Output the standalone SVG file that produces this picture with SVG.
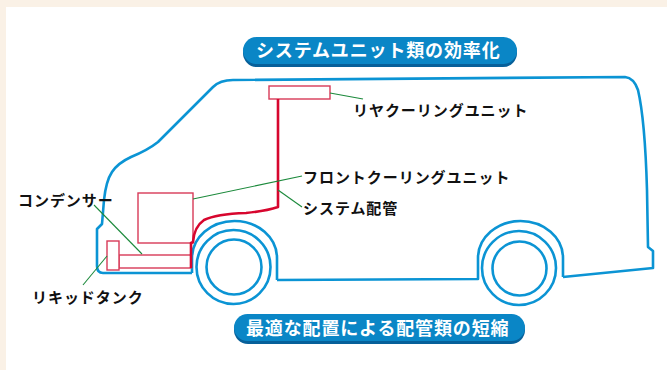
<svg xmlns="http://www.w3.org/2000/svg" width="667" height="370" viewBox="0 0 667 370">
  <style>
    .body { fill: none; stroke: #0b94d4; stroke-width: 2.6; stroke-linejoin: round; }
    .unit { fill: #ffffff; stroke: #d83a58; stroke-width: 1.4; }
    .pipe { fill: none; stroke: #d7062e; stroke-width: 2.6; stroke-linejoin: round; }
    .lead { fill: none; stroke: #1c8a3c; stroke-width: 1.1; }
    .lbl { font-family: "Noto Sans CJK JP", "Noto Sans", sans-serif; font-weight: 700; font-size: 15px; letter-spacing: 0.95px; fill: #111111; }
    .ttl { font-family: "Noto Sans CJK JP", "Noto Sans", sans-serif; font-weight: 700; font-size: 18px; letter-spacing: 0.85px; fill: #ffffff; }
    .pill { fill: #0a86c6; }
    .pillShade { fill: #07609a; }
  </style>

  <!-- page -->
  <rect x="0" y="0" width="667" height="370" fill="#faf1e6"/>
  <rect x="6" y="7" width="661" height="363" fill="#ffffff"/>

  <!-- heading banners -->
  <g id="title-top">
    <rect class="pillShade" x="243" y="39" width="274" height="28" rx="14"/>
    <rect class="pill" x="243" y="37" width="274" height="27" rx="13.5"/>
    <text class="ttl" x="256" y="56.5">システムユニット類の効率化</text>
  </g>
  <g id="title-bottom">
    <rect class="pillShade" x="234" y="316" width="291" height="28" rx="14"/>
    <rect class="pill" x="234" y="314" width="291" height="27" rx="13.5"/>
    <text class="ttl" x="246" y="334.5">最適な配置による配管類の短縮</text>
  </g>

  <!-- vehicle outline -->
  <g id="van">
    <path class="body" d="M192 273 L103 273 Q97 273 97 266 L97 229 L102 224 L104 200 Q106 181 112 172 Q118 163 131 157 Q148 150 158 142 L213 87 Q220 80 233 80 L625 77 Q634 78 638 90 Q645 120 647 190 L648 247 L653 251 L653 268 L563 277"/>
    <path class="body" d="M563 277 L563 258 A42.5 37 0 0 0 478 258 L478 279 L277 280"/>
    <path class="body" d="M277 280 L277 258 A42.5 37 0 0 0 192 258 L192 273"/>
    <g id="front-wheel">
      <circle class="body" cx="233.5" cy="267" r="37"/>
      <circle class="body" cx="234" cy="267" r="27.5"/>
    </g>
    <g id="rear-wheel">
      <circle class="body" cx="519" cy="268" r="37"/>
      <circle class="body" cx="519.5" cy="268.5" r="27"/>
    </g>
  </g>

  <!-- units -->
  <g id="rear-cooling-unit">
    <rect class="unit" x="269" y="86" width="61" height="13"/>
  </g>
  <g id="front-cooling-unit">
    <rect class="unit" x="138" y="193" width="55" height="50"/>
  </g>
  <g id="condenser">
    <rect class="unit" x="119" y="255" width="72" height="13"/>
  </g>
  <g id="liquid-tank">
    <rect class="unit" x="107" y="241" width="12" height="29"/>
  </g>

  <!-- piping and leader lines -->
  <g id="connectors">
    <path class="pipe" d="M278 99 L278 207 Q266 211 246 213 Q216 214 204 220 Q194 227 193 242 L191 243 L191 268"/>
    <line class="lead" x1="330" y1="93" x2="363" y2="99"/>
    <line class="lead" x1="193" y1="199" x2="302" y2="176"/>
    <line class="lead" x1="278" y1="190" x2="302" y2="207"/>
    <line class="lead" x1="94" y1="205" x2="142" y2="254"/>
    <line class="lead" x1="107" y1="256" x2="83" y2="285"/>
  </g>

  <!-- labels -->
  <g id="labels">
    <text class="lbl" x="353" y="115.5">リヤクーリングユニット</text>
    <text class="lbl" x="303" y="182.5">フロントクーリングユニット</text>
    <text class="lbl" x="303" y="213.5">システム配管</text>
    <text class="lbl" x="18" y="205.5">コンデンサー</text>
    <text class="lbl" x="32" y="302.5">リキッドタンク</text>
  </g>
</svg>
